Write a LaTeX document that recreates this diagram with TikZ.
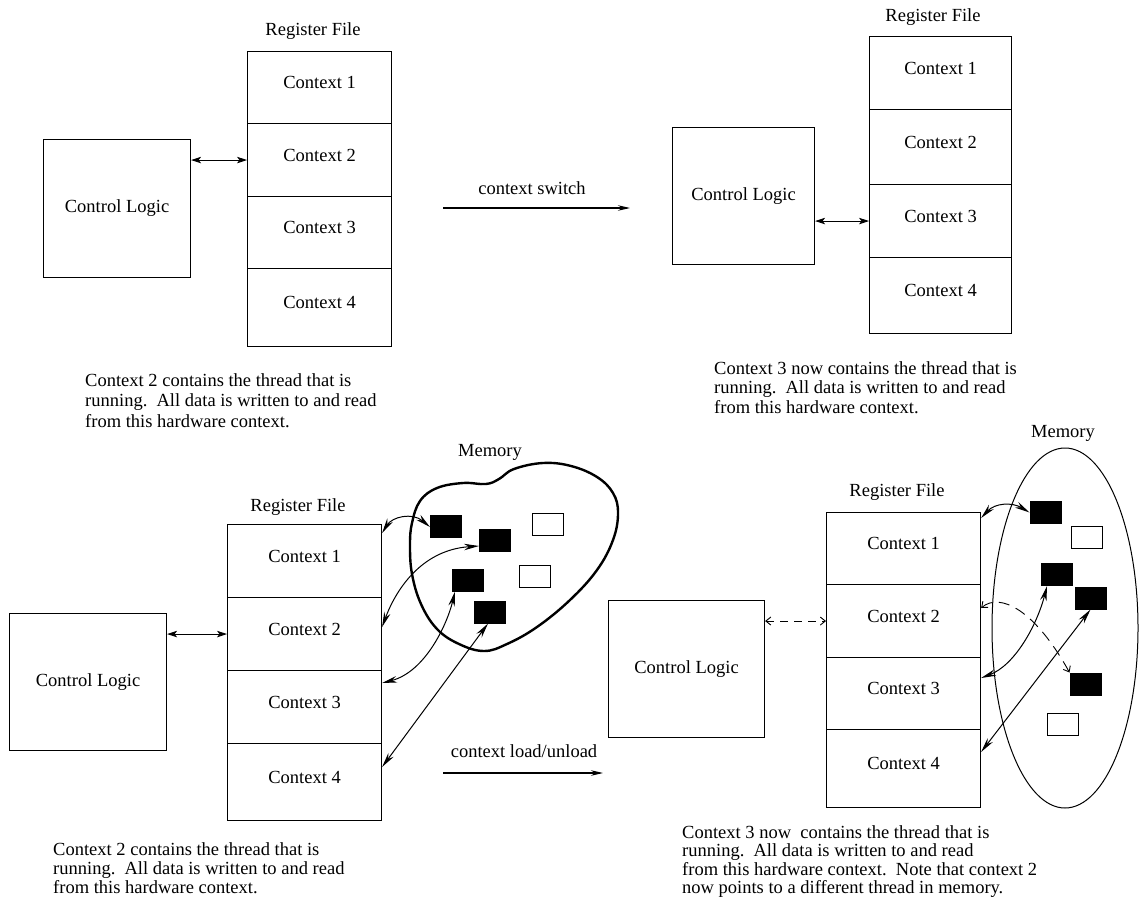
\documentclass[tikz,border=0pt]{standalone}
\usepackage{fontspec}
\setmainfont{Liberation Serif}
\usetikzlibrary{arrows.meta,calc}

\begin{document}
\begin{tikzpicture}[x=1pt,y=-1pt,
  every node/.style={font=\fontsize{18.5}{20}\selectfont},
  box/.style={draw, line width=1.1pt, inner sep=0pt, anchor=north west},
  cell/.style={box, minimum width=#1, text height=13pt, text depth=11pt},
  block/.style={draw, line width=1pt, inner sep=0pt, minimum width=31pt, minimum height=22pt},
  full/.style={block, fill=black},
  hollow/.style={block, fill=white},
  link/.style={line width=0.9pt, {Stealth[length=10pt,width=6.5pt,inset=2.5pt]}-{Stealth[length=10pt,width=6.5pt,inset=2.5pt]}},
  ptr/.style={line width=1pt, {Stealth[length=15pt,width=6.5pt]}-{Stealth[length=15pt,width=6.5pt]}},
  weakptr/.style={line width=0.9pt, dash pattern=on 11pt off 7pt, {Straight Barb[length=5pt,width=8pt]}-{Straight Barb[length=5pt,width=8pt]}},
  weaklink/.style={line width=0.9pt, dash pattern=on 8pt off 6pt, {Straight Barb[length=5pt,width=8pt]}-{Straight Barb[length=5pt,width=8pt]}},
  flow/.style={line width=1.1pt, -{Stealth[length=12pt,width=5.5pt]}},
  note/.style={align=left, anchor=north west, inner sep=0pt},
]
\fill[white] (0,0) rectangle (1139,915);
\useasboundingbox (0,0) rectangle (1139,915);

% ---------- top left: before the context switch ----------
\node[box, minimum width=147pt, minimum height=138pt] (clA) at (43,139) {Control Logic};
\node (rfA) at (313,31) {Register File};
\node[cell=144pt, minimum height=72pt] (a1) at (247,51)  {Context 1};
\node[cell=144pt, minimum height=73pt] (a2) at (247,123) {Context 2};
\node[cell=144pt, minimum height=72pt] (a3) at (247,196) {Context 3};
\node[cell=144pt, minimum height=78pt] (a4) at (247,268) {Context 4};
\draw[link] (clA.east |- a2) -- (a2.west);
\node[note, font=\fontsize{18.5}{20.5}\selectfont] (txA) at (85,373)
  {Context 2 contains the thread that is\\
   running.\ \ All data is written to and read\\
   from this hardware context.};

% context switch
\node (swl) at (532,188) {context switch};
\coordinate (sw0) at (443,208);
\coordinate (sw1) at (630,208);
\draw[flow] (sw0) -- (sw1);

% ---------- top right: after the context switch ----------
\node[box, minimum width=142pt, minimum height=137pt] (clB) at (672,127) {Control Logic};
\node (rfB) at (933,17) {Register File};
\node[cell=142pt, minimum height=73pt] (b1) at (869,36)  {Context 1};
\node[cell=142pt, minimum height=75pt] (b2) at (869,109) {Context 2};
\node[cell=142pt, minimum height=73pt] (b3) at (869,184) {Context 3};
\node[cell=142pt, minimum height=76pt] (b4) at (869,257) {Context 4};
\draw[link] (clB.east |- b3) -- (b3.west);
\node[note, font=\fontsize{18.5}{19.5}\selectfont] (txB) at (714,361)
  {Context 3 now contains the thread that is\\
   running.\ \ All data is written to and read\\
   from this hardware context.};

% ---------- bottom left: contexts backed by memory ----------
\node[box, minimum width=157pt, minimum height=137pt] (clC) at (9,613) {Control Logic};
\node (rfC) at (298,507) {Register File};
\node[cell=154pt, minimum height=73pt] (c1) at (227,524) {Context 1};
\node[cell=154pt, minimum height=73pt] (c2) at (227,597) {Context 2};
\node[cell=154pt, minimum height=73pt] (c3) at (227,670) {Context 3};
\node[cell=154pt, minimum height=77pt] (c4) at (227,743) {Context 4};
\draw[link] (clC.east |- c2) -- (c2.west);

\node (memC) at (490,452) {Memory};
\draw[line width=2.4pt] plot[smooth cycle, tension=0.65] coordinates {
  (412,523) (420,501) (437,488) (463,483) (486,484) (499,479) (514,469)
  (543,463) (571,466) (597,477) (613,493) (618,513) (613,540) (597,570)
  (570,600) (537,627) (507,644) (484,651) (459,644) (437,629) (421,604)
  (412,574) (410,545)};

\node[full]   (m1) at (446,526)   {};
\node[full]   (m2) at (495,540)   {};
\node[hollow] (m3) at (548,524.5) {};
\node[full]   (m4) at (468,580)   {};
\node[hollow] (m5) at (534.5,576.5) {};
\node[full]   (m6) at (490,612)   {};

\draw[ptr] ([yshift=-9pt]c1.north east) .. controls (392,517) and (412,512) .. ([yshift=-1pt]m1.west);
\draw[ptr] ([yshift=-30pt]c2.north east) .. controls (395,592) and (420,550) .. ([yshift=-6pt]m2.west);
\draw[ptr] ([yshift=-13pt]c3.north east) .. controls (425,672) and (447,625) .. ([xshift=3pt]m4.south west);
\draw[ptr] ([yshift=-24pt]c4.north east) -- ([xshift=-2pt]m6.south);

\node[note, font=\fontsize{18.5}{19}\selectfont] (txC) at (53,842)
  {Context 2 contains the thread that is\\
   running.\ \ All data is written to and read\\
   from this hardware context.};

% context load/unload
\node (ldl) at (524,751) {context load/unload};
\coordinate (ld0) at (443,773);
\coordinate (ld1) at (603,773);
\draw[flow] (ld0) -- (ld1);

% ---------- bottom right: after the load/unload ----------
\node[box, minimum width=156pt, minimum height=137pt] (clD) at (608,600) {Control Logic};
\node (rfD) at (897,492) {Register File};
\node[cell=154pt, minimum height=72pt] (d1) at (826,512) {Context 1};
\node[cell=154pt, minimum height=73pt] (d2) at (826,584) {Context 2};
\node[cell=154pt, minimum height=72pt] (d3) at (826,657) {Context 3};
\node[cell=154pt, minimum height=78pt] (d4) at (826,729) {Context 4};
\draw[weaklink] (clD.east |- d2) -- (d2.west);

\node (memD) at (1063,433) {Memory};
\draw[line width=1pt] (1065,628) ellipse [x radius=73, y radius=180];

\node[full]   (n1) at (1045.5,512.5) {};
\node[hollow] (n2) at (1087,537)     {};
\node[full]   (n3) at (1057,574.5)   {};
\node[full]   (n4) at (1090.5,598)   {};
\node[full]   (n5) at (1085.5,684)   {};
\node[hollow] (n6) at (1062.5,724.5) {};

\draw[ptr] ([yshift=-6pt]d1.north east) .. controls (995,503) and (1012,502) .. (n1.west);
\draw[weakptr] ([yshift=-24pt]d2.north east) .. controls (1000,592) and (1035,610) .. (n5.north west);
\draw[ptr] ([yshift=-21pt]d3.north east) .. controls (1015,665) and (1037,625) .. ([xshift=6pt]n3.south west);
\draw[ptr] ([yshift=-23pt]d4.north east) -- (n4.south);

\node[note, font=\fontsize{18.5}{18.5}\selectfont] (txD) at (682,825)
  {Context 3 now\ \ contains the thread that is\\
   running.\ \ All data is written to and read\\
   from this hardware context.\ \ Note that context 2\\
   now points to a different thread in memory.};
\end{tikzpicture}
\end{document}
